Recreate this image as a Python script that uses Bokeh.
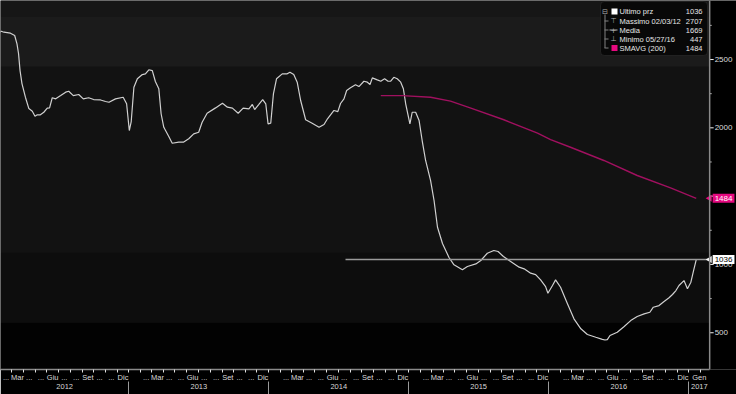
import math
import pandas as pd
from bokeh.plotting import figure
from bokeh.models import Range1d, LinearAxis, FixedTicker, BoxAnnotation, Label, Span
from bokeh.core.properties import value
from bokeh.embed import file_html
from bokeh.resources import INLINE

# ---------------- data ----------------
DATES = ["2012-01-25", "2012-02-03", "2012-02-10", "2012-02-27", "2012-03-09", "2012-03-15", "2012-03-19",
         "2012-03-23", "2012-03-28", "2012-04-06", "2012-04-15", "2012-04-24", "2012-05-01", "2012-05-07",
         "2012-05-15", "2012-05-24", "2012-06-02", "2012-06-08", "2012-06-15", "2012-06-24", "2012-07-07",
         "2012-07-20", "2012-07-28", "2012-08-09", "2012-08-23", "2012-09-04", "2012-09-18", "2012-10-01",
         "2012-10-19", "2012-11-01", "2012-11-10", "2012-11-27", "2012-12-17", "2012-12-26", "2013-01-02",
         "2013-01-07", "2013-01-14", "2013-01-23", "2013-02-05", "2013-02-13", "2013-02-22", "2013-03-03",
         "2013-03-11", "2013-03-20", "2013-03-26", "2013-04-02", "2013-04-15", "2013-04-24", "2013-05-11",
         "2013-05-24", "2013-06-06", "2013-06-19", "2013-07-02", "2013-07-11", "2013-07-24", "2013-08-15",
         "2013-09-02", "2013-09-15", "2013-09-28", "2013-10-13", "2013-10-26", "2013-11-10", "2013-11-19",
         "2013-11-25", "2013-12-06", "2013-12-16", "2013-12-24", "2013-12-30", "2014-01-06", "2014-01-13",
         "2014-01-21", "2014-02-05", "2014-02-18", "2014-02-25", "2014-03-07", "2014-03-16", "2014-03-25",
         "2014-04-07", "2014-04-24", "2014-05-12", "2014-05-25", "2014-06-03", "2014-06-20", "2014-06-30",
         "2014-07-07", "2014-07-16", "2014-07-23", "2014-08-02", "2014-08-15", "2014-08-24", "2014-09-06",
         "2014-09-15", "2014-09-22", "2014-09-28", "2014-10-11", "2014-10-20", "2014-10-30", "2014-11-08",
         "2014-11-15", "2014-11-23", "2014-12-02", "2014-12-11", "2014-12-18", "2014-12-24", "2015-01-04",
         "2015-01-10", "2015-01-19", "2015-01-28", "2015-02-05", "2015-02-14", "2015-02-27", "2015-03-08",
         "2015-03-17", "2015-03-30", "2015-04-16", "2015-04-29", "2015-05-21", "2015-06-03", "2015-06-25",
         "2015-07-08", "2015-07-25", "2015-08-11", "2015-08-22", "2015-09-05", "2015-09-20", "2015-10-16",
         "2015-10-29", "2015-11-15", "2015-11-28", "2015-12-11", "2015-12-24", "2015-12-30", "2016-01-11",
         "2016-01-19", "2016-02-01", "2016-02-19", "2016-03-07", "2016-03-25", "2016-04-11", "2016-05-03",
         "2016-05-20", "2016-05-27", "2016-06-02", "2016-06-09", "2016-06-28", "2016-07-16", "2016-08-02",
         "2016-08-19", "2016-09-06", "2016-09-21", "2016-09-30", "2016-10-15", "2016-10-28", "2016-11-10",
         "2016-11-19", "2016-11-28", "2016-12-06", "2016-12-19", "2016-12-28", "2017-01-06", "2017-01-13",
         "2017-01-20"]
PRICE = [2690, 2707, 2700, 2693, 2676, 2615, 2544,
         2419, 2324, 2224, 2141, 2122, 2085, 2095,
         2095, 2114, 2144, 2146, 2220, 2212, 2236,
         2261, 2268, 2236, 2244, 2212, 2220, 2207,
         2204, 2193, 2187, 2212, 2224, 2176, 1980,
         2046, 2297, 2359, 2390, 2395, 2425, 2419,
         2339, 2286, 2103, 2004, 1936, 1887, 1895,
         1896, 1920, 1956, 1968, 2041, 2107, 2146,
         2180, 2151, 2144, 2107, 2144, 2139, 2171,
         2134, 2171, 2207, 2176, 2029, 2034, 2249,
         2359, 2395, 2395, 2407, 2390, 2334, 2200,
         2059, 2034, 2004, 2024, 2066, 2127, 2119,
         2178, 2212, 2273, 2293, 2315, 2302, 2341,
         2334, 2317, 2366, 2351, 2341, 2359, 2341,
         2341, 2370, 2359, 2334, 2286, 2176, 2029,
         2114, 2114, 2053, 1907, 1761, 1614, 1468,
         1272, 1153, 1051, 997, 961, 985, 1004,
         1029, 1082, 1102, 1095, 1058, 1029, 980,
         968, 936, 926, 887, 838, 789, 846,
         887, 833, 712, 602, 529, 487, 467,
         452, 447, 450, 480, 504, 546, 589,
         619, 638, 650, 687, 699, 729, 756,
         780, 809, 846, 882, 822, 870, 955,
         1036]

SMA_DATES = ["2014-10-20", "2014-12-15", "2015-02-27", "2015-04-20", "2015-06-12", "2015-09-06",
             "2015-12-03", "2016-01-06", "2016-02-27", "2016-05-24", "2016-08-19", "2016-11-14",
             "2017-01-20"]
SMA = [2236, 2236, 2224, 2195, 2144, 2059, 1961, 1914, 1858, 1761, 1651, 1561, 1484]

LAST_PRICE = 1036
LAST_SMA = 1484
LAST_LINE_START = "2014-07-20"

X_START, X_END = "2012-02-01", "2017-02-24"      # plotted period; price axis sits at X_END
X_VIEW_END = "2017-05-05"                          # room right of the price axis for its labels
Y_MIN, Y_MAX = 231, 2932

BAND_EDGES = [231, 575, 1087, 2449, 2815, 2932]
BAND_COLORS = ["#020202", "#0d0d0d", "#121212", "#1b1b1b", "#161616"]

Y_TICKS = [500, 1000, 1500, 2000, 2500]
Y_MINOR = [750, 1250, 1750, 2250, 2750]

MONTH_LABELS = ["", "...", "Mar", "...", "...", "Giu", "...", "...", "Set", "...", "...", "Dic"]
JAN_LAST_LABEL = "Gen"
YEARS = [2012, 2013, 2014, 2015, 2016, 2017]

LEGEND_NAMES = ["Ultimo prz", "Massimo 02/03/12", "Media", "Minimo 05/27/16", "SMAVG (200)"]
LEGEND_VALUES = ["1036", "2707", "1669", "447", "1484"]

FONT = "Liberation Sans"
PRICE_COLOR = "#d0d0d0"
SMA_COLOR = "#a0105f"
SMA_TAG_COLOR = "#e5097f"
AXIS_COLOR = "#8a8a8a"


def ms(ts):
    return float(pd.Timestamp(ts).value // 1_000_000)


x0, x1, xv = ms(X_START), ms(X_END), ms(X_VIEW_END)

p = figure(width=736, height=394, output_backend="svg", toolbar_location=None,
           x_axis_type=None, y_axis_type=None,
           x_range=Range1d(x0, xv), y_range=Range1d(Y_MIN, Y_MAX),
           min_border_left=0, min_border_top=0, min_border_right=0, min_border_bottom=25)
p.background_fill_color = "#121212"
p.border_fill_color = "#000000"
p.outline_line_color = None

# background bands
for lo, hi, c in zip(BAND_EDGES[:-1], BAND_EDGES[1:], BAND_COLORS):
    p.add_layout(BoxAnnotation(bottom=lo, top=hi, right=x1, fill_color=c, fill_alpha=1,
                               line_color=None, level="underlay"))
p.add_layout(BoxAnnotation(left=x1, fill_color="#000000", fill_alpha=1, line_color=None, level="underlay"))

# series
p.line([ms(d) for d in DATES], PRICE, line_color=PRICE_COLOR, line_width=1.2)
p.line([ms(d) for d in SMA_DATES], SMA, line_color=SMA_COLOR, line_width=1.4)
p.line([ms(LAST_LINE_START), x1], [LAST_PRICE, LAST_PRICE], line_color="#9a9a9a", line_width=1.6)

# ---------------- price axis (right edge of the plotted period) ----------------
p.add_layout(Span(location=x1, dimension="height", line_color=AXIS_COLOR, line_width=1.5))
p.ray(x=[x1] * len(Y_TICKS), y=Y_TICKS, length=4, length_units="screen", angle=0,
      line_color="#f0f0f0", line_width=1)
p.ray(x=[x1] * len(Y_MINOR), y=Y_MINOR, length=2, length_units="screen", angle=0,
      line_color="#bdbdbd", line_width=1)
p.text(x=[x1] * len(Y_TICKS), y=Y_TICKS, text=[str(v) for v in Y_TICKS], x_offset=5,
       text_font=value(FONT), text_font_size="8px", text_color="#dcdcdc",
       text_baseline="middle", text_align="left")

# value tags with pointers
p.scatter(x=[x1, x1], y=[LAST_SMA, LAST_PRICE], marker="triangle", size=7, angle=math.pi / 2,
          fill_color=[SMA_TAG_COLOR, "white"], line_color=None)
p.add_layout(Label(x=x1, y=LAST_SMA, x_offset=3, text=str(LAST_SMA), text_font=FONT,
                   text_font_size="8px", text_color="white", text_baseline="middle",
                   background_fill_color=SMA_TAG_COLOR, background_fill_alpha=1, padding=2))
p.add_layout(Label(x=x1, y=LAST_PRICE, x_offset=3, text=str(LAST_PRICE), text_font=FONT,
                   text_font_size="8px", text_color="black", text_baseline="middle",
                   background_fill_color="white", background_fill_alpha=1, padding=2))

# ---------------- x axes ----------------
months = pd.date_range(X_START, "2017-01-01", freq="MS")
mids, labels = [], []
for m in months:
    a = ms(m)
    b = x1 if m.year == YEARS[-1] else ms(m + pd.offsets.MonthBegin(1))
    mids.append(a + (b - a) / 2)
    if m.month == 1:
        labels.append(JAN_LAST_LABEL if m.year == YEARS[-1] else "")
    else:
        labels.append(MONTH_LABELS[m.month - 1])
month_starts = [ms(m) for m in pd.date_range("2012-03-01", X_END, freq="MS")]

month_axis = LinearAxis(ticker=FixedTicker(ticks=mids, minor_ticks=month_starts),
                        major_label_overrides=dict(zip(mids, labels)),
                        bounds=(x0, x1),
                        axis_line_color=AXIS_COLOR, axis_line_width=1.5,
                        major_tick_line_color=None, major_tick_out=0, major_tick_in=0,
                        minor_tick_line_color="#e0e0e0", minor_tick_out=3, minor_tick_in=0,
                        major_label_text_font=FONT, major_label_text_font_size="7.5px",
                        major_label_text_color="#d8d8d8", major_label_standoff=0)
p.add_layout(month_axis, "below")

year_mids, year_labels = [], []
for y in YEARS:
    a = max(ms(f"{y}-01-01"), x0)
    b = min(ms(f"{y + 1}-01-01"), x1)
    year_mids.append(a + (b - a) / 2)
    year_labels.append(str(y))
year_starts = [ms(f"{y}-01-01") for y in YEARS[1:]]

year_axis = LinearAxis(ticker=FixedTicker(ticks=year_mids, minor_ticks=year_starts),
                       major_label_overrides=dict(zip(year_mids, year_labels)),
                       axis_line_color=None,
                       major_tick_line_color=None, major_tick_out=0, major_tick_in=0,
                       minor_tick_line_color="#9a9a9a", minor_tick_out=14, minor_tick_in=3,
                       major_label_text_font=FONT, major_label_text_font_size="7.5px",
                       major_label_text_color="#d8d8d8", major_label_standoff=-15)
p.add_layout(year_axis, "below")

# ---------------- custom legend (screen units, from frame bottom) ----------------
FB = 369  # frame bottom in canvas pixels


def sy(cy):
    return FB - cy


scr = dict(left_units="screen", right_units="screen", top_units="screen", bottom_units="screen")
p.add_layout(BoxAnnotation(left=600, right=707, top=sy(1), bottom=sy(55), fill_color="#080808",
                           fill_alpha=1, line_color="#4a4a4a", line_width=1, border_radius=4, **scr))
row_y = [11, 20.5, 29.5, 38.5, 47.5]
for name, val, cy in zip(LEGEND_NAMES, LEGEND_VALUES, row_y):
    p.add_layout(Label(x=619, y=sy(cy), x_units="screen", y_units="screen", text=name,
                       text_font=FONT, text_font_size="7.5px", text_color="#e6e6e6",
                       text_baseline="middle", text_align="left"))
    p.add_layout(Label(x=702, y=sy(cy), x_units="screen", y_units="screen", text=val,
                       text_font=FONT, text_font_size="7.5px", text_color="#e6e6e6",
                       text_baseline="middle", text_align="right"))
# swatches
p.add_layout(BoxAnnotation(left=611, right=617, top=sy(row_y[0] - 3), bottom=sy(row_y[0] + 3),
                           fill_color="white", fill_alpha=1, line_color=None, **scr))
p.add_layout(BoxAnnotation(left=611, right=617, top=sy(row_y[4] - 3), bottom=sy(row_y[4] + 3),
                           fill_color=SMA_TAG_COLOR, fill_alpha=1, line_color=None, **scr))
# tree lines
p.add_layout(BoxAnnotation(left=604, right=605, top=sy(row_y[0] + 3), bottom=sy(row_y[4]),
                           fill_color="#808080", fill_alpha=1, line_color=None, **scr))
for cy in row_y[1:]:
    p.add_layout(BoxAnnotation(left=604, right=608, top=sy(cy - 0.5), bottom=sy(cy + 0.5),
                               fill_color="#808080", fill_alpha=1, line_color=None, **scr))
p.add_layout(BoxAnnotation(left=609, right=617, top=sy(row_y[2] - 0.5), bottom=sy(row_y[2] + 0.5),
                           fill_color="#b0b0b0", fill_alpha=1, line_color=None, **scr))
for sym, cy in zip(["\u229f", "\u22a4", "+", "\u22a5"], row_y[:4]):
    p.add_layout(Label(x=604.5 if sym == "\u229f" else 613, y=sy(cy), x_units="screen", y_units="screen",
                       text=sym, text_font="DejaVu Sans", text_font_size="7px", text_color="#b0b0b0",
                       text_baseline="middle", text_align="center"))

open("out.html", "w").write(file_html(p, INLINE))
